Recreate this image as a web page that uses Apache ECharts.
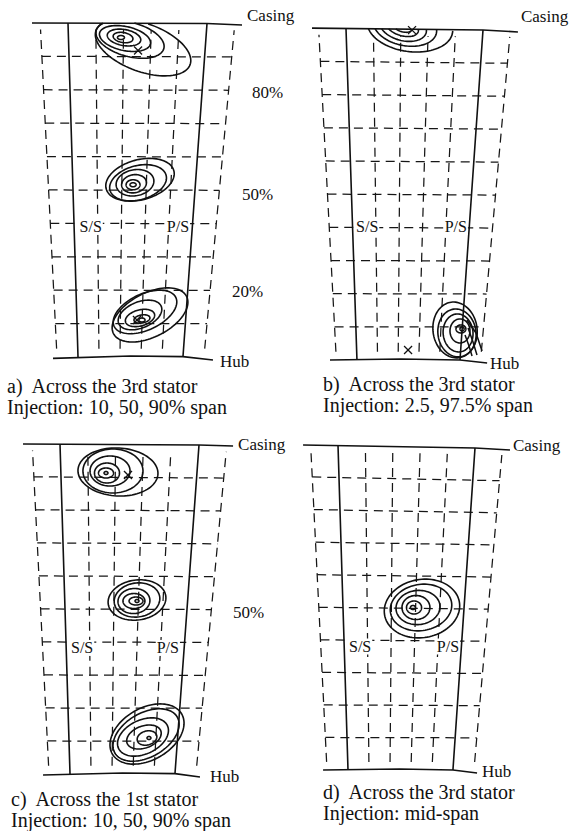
<!DOCTYPE html>
<html>
<head>
<meta charset="utf-8">
<script src="https://cdn.jsdelivr.net/npm/echarts@6/dist/echarts.min.js"></script>
<style>
  html, body { margin: 0; padding: 0; background: #fff; }
  #chart { width: 573px; height: 831px; }
</style>
</head>
<body>
<div id="chart"></div>
<script>
// Measurement grid: pitch fractions (0 = suction surface, 1 = pressure surface) and span %
const pitchLines = [-0.2, 0.2, 0.4, 0.6, 0.8, 1.2];
const spanLines = [10, 20, 30, 40, 50, 60, 70, 80, 90];
const radialExtent = [2.5, 98];

// Blade passage geometry in casing-pitch units (suction side at casing = 0, pressure side at casing = 1)
const hubSuction = [0.072, 0.080, 0.072, 0.073];
const hubPressure = [0.827, 0.832, 0.827, 0.839];
const casingTilt = [0.15, 0.45, 0.30, 0.93];

// End-wall outlines [pitch position, span %]
const casingA = [[-0.259, 100.0], [1, 99.85], [1.252, 99.4]];
const casingB = [[-0.248, 100.1], [1, 99.55], [1.255, 98.95]];
const casingC = [[-0.266, 100.0], [1, 99.7], [1.245, 99.4]];
const casingD = [[-0.255, 100.0], [1, 99.07], [1.255, 98.46]];
const hubA = [[-0.108, -0.4], [0.45, 0.3], [0.827, 0.1], [1.043, -0.9]];
const hubB = [[-0.117, 0.0], [0.40, 0.3], [0.832, 0.0], [1.030, -0.9]];
const hubC = [[-0.122, -0.3], [0.45, 0.3], [0.827, 0.1], [1.007, -0.9]];
const hubD = [[-0.109, 0.0], [0.45, 0.3], [0.839, 0.0], [1.015, -0.9]];

// Tracer concentration contours: [centre pitch, centre span, pitch radius, span radius, tilt deg]
const contoursA = [
  [0.540, 92.65, 0.360, 7.2, 20], [0.446, 95.05, 0.252, 5.1, 15], [0.410, 95.35, 0.187, 3.6, 12],
  [0.403, 95.65, 0.122, 2.4, 10], [0.396, 95.65, 0.072, 1.5, 10], [0.381, 95.65, 0.025, 0.6, 0],
  [0.518, 53.07, 0.252, 6.0, -15], [0.504, 52.17, 0.209, 5.1, -15], [0.482, 52.17, 0.137, 3.9, -10],
  [0.475, 51.87, 0.090, 2.7, -10], [0.468, 51.57, 0.050, 1.5, 0], [0.468, 51.57, 0.022, 0.6, 0],
  [0.590, 12.59, 0.295, 6.6, -27], [0.554, 13.49, 0.245, 5.4, -25], [0.518, 12.59, 0.165, 3.9, -22],
  [0.518, 11.69, 0.108, 2.4, -15], [0.532, 11.39, 0.058, 1.2, -10], [0.532, 11.09, 0.022, 0.6, 0]
];
const contoursB = [
  [0.467, 100.6, 0.314, 7.55, 8], [0.431, 100.6, 0.234, 5.74, 12], [0.416, 100.6, 0.175, 4.23, 15],
  [0.409, 100.6, 0.124, 2.72, 18], [0.409, 100.6, 0.073, 1.51, 20],
  [0.796, 9.06, 0.161, 8.46, -8], [0.810, 8.16, 0.139, 7.25, -8], [0.818, 8.16, 0.109, 5.74, -5],
  [0.832, 8.76, 0.073, 3.63, 0], [0.839, 9.37, 0.036, 1.21, 0], [0.847, 9.37, 0.015, 0.6, 0]
];
const contoursC = [
  [0.417, 91.52, 0.288, 7.27, 3], [0.381, 91.82, 0.216, 6.67, 0], [0.360, 91.82, 0.144, 4.55, 0],
  [0.338, 91.21, 0.090, 3.03, 0], [0.331, 91.21, 0.054, 1.52, 0], [0.331, 91.21, 0.014, 0.45, 0],
  [0.554, 52.73, 0.209, 6.06, -8], [0.554, 52.73, 0.165, 5.15, -8], [0.532, 52.42, 0.115, 3.79, -5],
  [0.532, 52.42, 0.079, 2.27, 0], [0.547, 52.42, 0.050, 1.21, 0], [0.554, 52.42, 0.014, 0.45, 0],
  [0.626, 12.12, 0.288, 7.88, -30], [0.619, 11.82, 0.259, 6.67, -30], [0.597, 11.21, 0.194, 5.15, -25],
  [0.604, 11.21, 0.129, 3.33, -20], [0.626, 10.91, 0.072, 2.12, -15], [0.640, 10.91, 0.014, 0.45, 0]
];
const contoursD = [
  [0.613, 49.69, 0.277, 8.95, -10], [0.606, 50.0, 0.226, 7.10, -10], [0.584, 50.0, 0.161, 5.25, -5],
  [0.569, 50.0, 0.102, 3.70, 0], [0.555, 50.0, 0.055, 2.01, 0], [0.547, 50.0, 0.018, 0.62, 0]
];

// Contour branches running across the pressure surface near the hub (panel b)
const tailsB = [
  [[0.883, 12.08], [0.949, 8.16], [0.993, 2.72]],
  [[0.891, 9.67], [0.927, 5.44], [0.956, 1.51]],
  [[0.869, 7.55], [0.898, 4.23], [0.920, 1.21]]
];

// Injection points marked with a cross
const crossesA = [[0.504, 91.75], [0.496, 11.09]];
const crossesB = [[0.482, 99.5], [0.453, 3.02]];
const crossesC = [[0.489, 90.61]];
const crossesD = [];

// Annotations: [text, pitch position, span %, alignment]
const labelsA = [['Casing', 1.288, 102.2, 'left'], ['Hub', 1.094, -1.2, 'left'], ['80%', 1.324, 79.2, 'left'],
  ['50%', 1.252, 48.6, 'left'], ['20%', 1.180, 19.5, 'left'], ['S/S', 0.076, 39.0, 'left'], ['P/S', 0.878, 39.0, 'right']];
const labelsB = [['Casing', 1.277, 103.6, 'left'], ['Hub', 1.051, -1.2, 'left'],
  ['S/S', 0.066, 40.2, 'left'], ['P/S', 0.890, 40.2, 'right']];
const labelsC = [['Casing', 1.281, 99.7, 'left'], ['Hub', 1.079, -0.9, 'left'], ['50%', 1.245, 48.8, 'left'],
  ['S/S', 0.072, 38.2, 'left'], ['P/S', 0.863, 38.2, 'right']];
const labelsD = [['Casing', 1.277, 99.7, 'left'], ['Hub', 1.051, -0.6, 'left'],
  ['S/S', 0.073, 38.0, 'left'], ['P/S', 0.891, 38.0, 'right']];

const captionA = ['a)  Across the 3rd stator', 'Injection: 10, 50, 90% span'];
const captionB = ['b)  Across the 3rd stator', 'Injection: 2.5, 97.5% span'];
const captionC = ['c)  Across the 1st stator', 'Injection: 10, 50, 90% span'];
const captionD = ['d)  Across the 3rd stator', 'Injection: mid-span'];

// ---- layout ----
const boxes = [
  { left: 68, top: 23, width: 139, height: 334 },
  { left: 346, top: 28.5, width: 137, height: 331.5 },
  { left: 60, top: 444, width: 139, height: 330 },
  { left: 338, top: 445, width: 137, height: 325 }
];
const captionPos = [
  { left: 7, top: 375 },
  { left: 323, top: 373 },
  { left: 11, top: 788 },
  { left: 323, top: 781 }
];

const panels = [
  { casing: casingA, hub: hubA, contours: contoursA, crosses: crossesA, labels: labelsA, caption: captionA, tails: [] },
  { casing: casingB, hub: hubB, contours: contoursB, crosses: crossesB, labels: labelsB, caption: captionB, tails: tailsB },
  { casing: casingC, hub: hubC, contours: contoursC, crosses: crossesC, labels: labelsC, caption: captionC, tails: [] },
  { casing: casingD, hub: hubD, contours: contoursD, crosses: crossesD, labels: labelsD, caption: captionD, tails: [] }
];
panels.forEach((p, i) => { p.hs = hubSuction[i]; p.hp = hubPressure[i]; p.tilt = casingTilt[i]; });

const SERIF = 'Liberation Serif';
const INK = '#111';

// pitch fraction + span -> axis coordinates inside the tapering passage
function toAxis(p, f, s) {
  const S = p.hs * (1 - s / 100);
  const P = p.hp + (1 - p.hp) * s / 100;
  const u = S + f * (P - S);
  return [u, s - p.tilt * u * s / 100];
}

function dashedLines(p) {
  const out = [];
  pitchLines.forEach(f => {
    const pts = [];
    for (let k = 0; k <= 4; k++) {
      const s = radialExtent[0] + (radialExtent[1] - radialExtent[0]) * k / 4;
      pts.push(toAxis(p, f, s));
    }
    out.push(pts);
  });
  spanLines.forEach(s => {
    out.push([toAxis(p, pitchLines[0], s), toAxis(p, pitchLines[pitchLines.length - 1], s)]);
  });
  return out;
}

function wallLines(p) {
  const blade = f => [toAxis(p, f, 100), toAxis(p, f, 50), toAxis(p, f, 0)];
  return [blade(0), blade(1), p.casing, p.hub];
}

function polySeries(idx, lines, style, z) {
  return {
    type: 'custom', xAxisIndex: idx, yAxisIndex: idx, z: z, silent: true, clip: false,
    animation: false,
    data: lines.map(l => [l[0][0], l[0][1]]),
    encode: { x: 0, y: 1 },
    renderItem: (params, api) => {
      const pts = lines[params.dataIndex].map(q => api.coord(q));
      return { type: 'polyline', shape: { points: pts }, style: Object.assign({ fill: 'none' }, style) };
    }
  };
}

function yAt(poly, x) {
  if (x <= poly[0][0]) {
    const a = poly[0], b = poly[1];
    return a[1] + (b[1] - a[1]) * (x - a[0]) / (b[0] - a[0]);
  }
  for (let k = 0; k < poly.length - 1; k++) {
    const a = poly[k], b = poly[k + 1];
    if (x <= b[0]) return a[1] + (b[1] - a[1]) * (x - a[0]) / (b[0] - a[0]);
  }
  const a = poly[poly.length - 2], b = poly[poly.length - 1];
  return a[1] + (b[1] - a[1]) * (x - a[0]) / (b[0] - a[0]);
}

function contourSeries(idx, p) {
  return {
    type: 'custom', xAxisIndex: idx, yAxisIndex: idx, z: 3, silent: true, clip: false,
    animation: false,
    data: p.contours.map(c => [c[0], c[1]]),
    encode: { x: 0, y: 1 },
    renderItem: (params, api) => {
      const c = p.contours[params.dataIndex];
      const ctr = api.coord([c[0], c[1]]);
      const r = api.size([c[2], c[3]]);
      const a = c[4] * Math.PI / 180;
      const n = 96;
      const pts = [];
      for (let k = 0; k < n; k++) {
        const t = 2 * Math.PI * k / n;
        const ex = r[0] * Math.cos(t), ey = r[1] * Math.sin(t);
        pts.push([ctr[0] + ex * Math.cos(a) - ey * Math.sin(a), ctr[1] + ex * Math.sin(a) + ey * Math.cos(a)]);
      }
      // trim the parts of a contour lying beyond the casing or hub walls
      const top = p.casing.map(q => api.coord(q));
      const bot = p.hub.map(q => api.coord(q));
      const inside = pts.map(q => q[1] >= yAt(top, q[0]) - 0.3 && q[1] <= yAt(bot, q[0]) + 0.3);
      const style = { fill: 'none', stroke: INK, lineWidth: 1.6 };
      if (inside.every(v => v)) {
        return { type: 'polygon', shape: { points: pts }, style: style };
      }
      let start = 0;
      for (let k = 0; k < n; k++) {
        if (inside[k] && !inside[(k - 1 + n) % n]) { start = k; break; }
      }
      const runs = [];
      let cur = [];
      for (let j = 0; j < n; j++) {
        const k = (start + j) % n;
        if (inside[k]) cur.push(pts[k]);
        else if (cur.length) { runs.push(cur); cur = []; }
      }
      if (cur.length) runs.push(cur);
      return {
        type: 'group',
        children: runs.filter(rn => rn.length > 1).map(rn => ({ type: 'polyline', shape: { points: rn }, style: style }))
      };
    }
  };
}

function crossSeries(idx, p) {
  return {
    type: 'custom', xAxisIndex: idx, yAxisIndex: idx, z: 4, silent: true, clip: false,
    animation: false,
    data: p.crosses,
    encode: { x: 0, y: 1 },
    renderItem: (params, api) => {
      const c = api.coord(p.crosses[params.dataIndex]);
      const h = 4;
      const st = { stroke: INK, lineWidth: 1.3, fill: 'none' };
      return {
        type: 'group', children: [
          { type: 'line', shape: { x1: c[0] - h, y1: c[1] - h, x2: c[0] + h, y2: c[1] + h }, style: st },
          { type: 'line', shape: { x1: c[0] - h, y1: c[1] + h, x2: c[0] + h, y2: c[1] - h }, style: st }
        ]
      };
    }
  };
}

function labelSeries(idx, p) {
  return {
    type: 'custom', xAxisIndex: idx, yAxisIndex: idx, z: 6, silent: true, clip: false,
    animation: false,
    data: p.labels.map(l => [l[1], l[2]]),
    encode: { x: 0, y: 1 },
    renderItem: (params, api) => {
      const l = p.labels[params.dataIndex];
      const pos = api.coord([l[1], l[2]]);
      const blade = l[0] === 'S/S' || l[0] === 'P/S';
      return {
        type: 'text', x: pos[0], y: pos[1],
        style: {
          text: l[0], font: (blade ? 16 : 17) + 'px "' + SERIF + '", serif', fill: INK,
          textAlign: l[3], textVerticalAlign: 'middle', align: l[3], verticalAlign: 'middle',
          backgroundColor: blade ? '#fff' : 'transparent', padding: blade ? [0, 1, 0, 1] : 0
        }
      };
    }
  };
}

const series = [];
panels.forEach((p, i) => {
  series.push(polySeries(i, dashedLines(p), { stroke: '#161616', lineWidth: 1.25, lineDash: [9, 6] }, 1));
  series.push(polySeries(i, wallLines(p), { stroke: INK, lineWidth: 1.6 }, 2));
  if (p.tails.length) series.push(polySeries(i, p.tails, { stroke: INK, lineWidth: 1.5 }, 3));
  series.push(contourSeries(i, p));
  if (p.crosses.length) series.push(crossSeries(i, p));
  series.push(labelSeries(i, p));
});

const chart = echarts.init(document.getElementById('chart'), null, { renderer: 'svg' });
chart.setOption({
  backgroundColor: '#fff',
  animation: false,
  title: panels.map((p, i) => ({
    text: p.caption.join('\n'),
    left: captionPos[i].left, top: captionPos[i].top, padding: 0,
    textStyle: { fontFamily: SERIF, fontSize: 20, fontWeight: 'normal', color: INK, lineHeight: 21 }
  })),
  grid: boxes.map(b => ({ left: b.left, top: b.top, width: b.width, height: b.height, containLabel: false })),
  xAxis: boxes.map((b, i) => ({ type: 'value', gridIndex: i, min: 0, max: 1, show: false })),
  yAxis: boxes.map((b, i) => ({ type: 'value', gridIndex: i, min: 0, max: 100, show: false })),
  series: series
});
</script>
</body>
</html>
